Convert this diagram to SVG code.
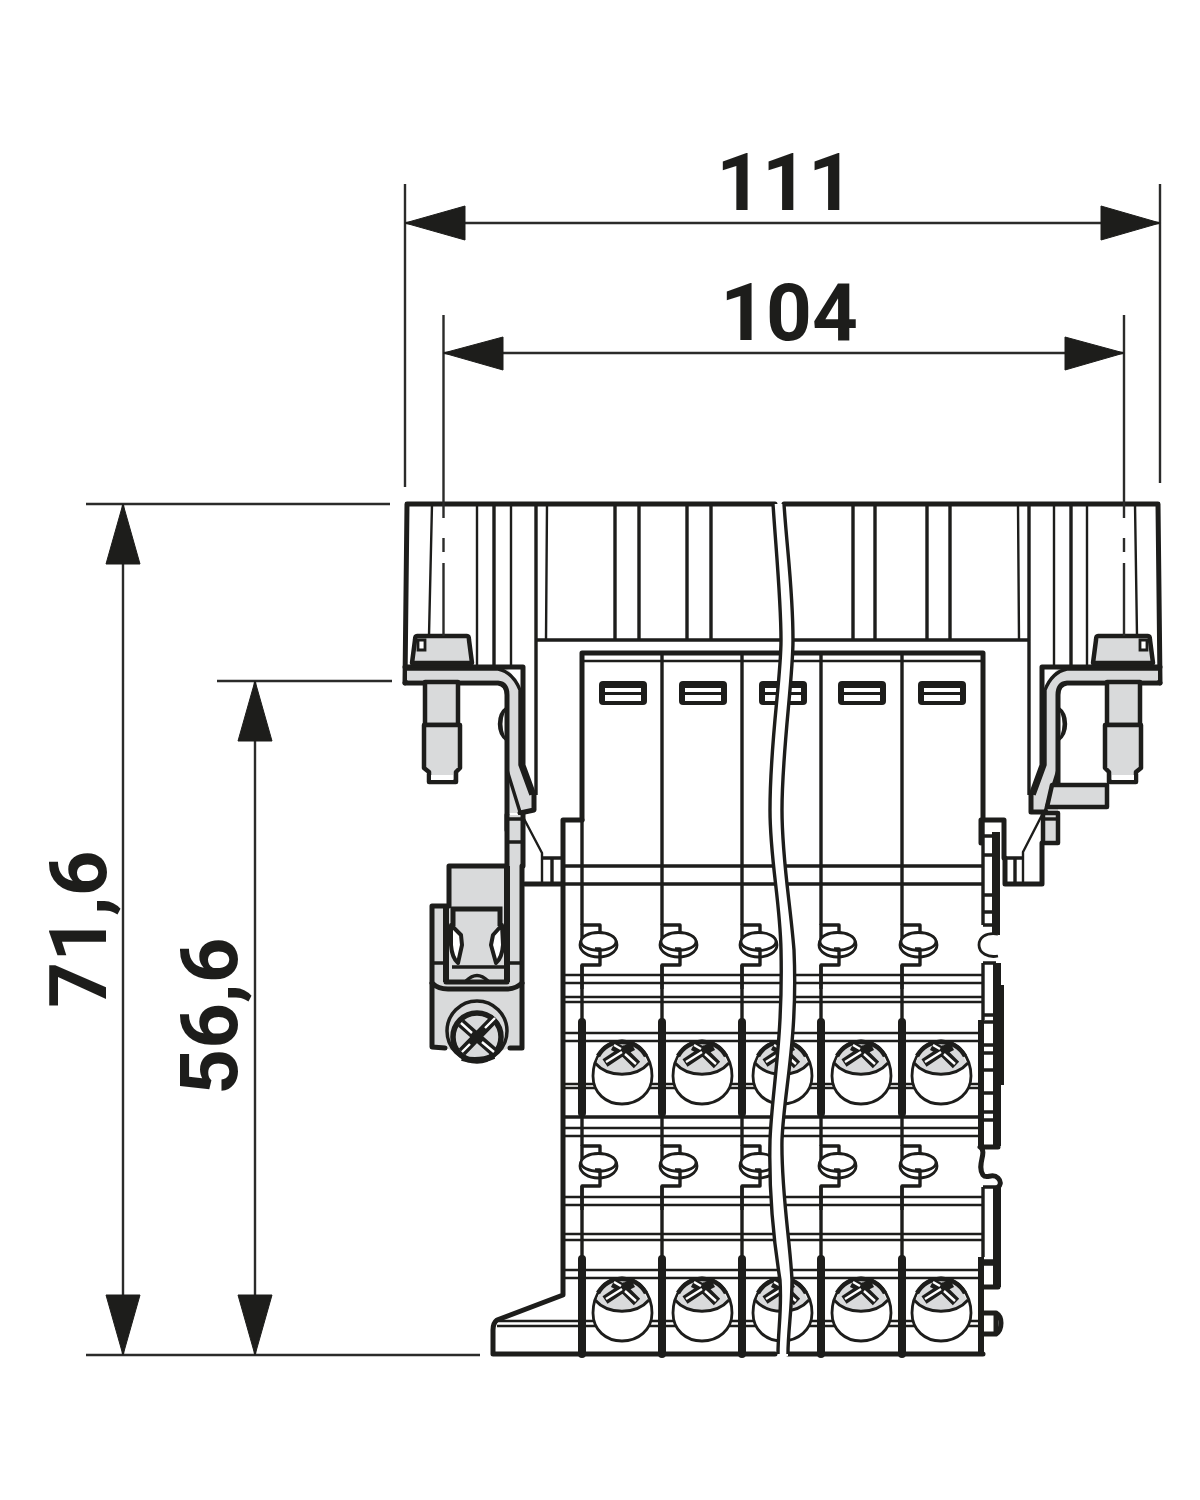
<svg xmlns="http://www.w3.org/2000/svg" xmlns:xlink="http://www.w3.org/1999/xlink" width="1200" height="1500" viewBox="0 0 1200 1500">
<style>
.l{fill:none;stroke:#1d1d1b;stroke-width:2.4;stroke-linejoin:round;stroke-linecap:butt}
.m{fill:none;stroke:#1d1d1b;stroke-width:3.4;stroke-linejoin:round}
.h{fill:none;stroke:#1d1d1b;stroke-width:5;stroke-linejoin:round;stroke-linecap:round}
.g{fill:#d9dadb;stroke:#1d1d1b;stroke-width:4.5;stroke-linejoin:round}
.gf{fill:#d9dadb;stroke:none}
.w{fill:#fff;stroke:#1d1d1b;stroke-width:2.8}
.d{fill:none;stroke:#2b2b2a;stroke-width:2.4}
.a{fill:#1d1d1b;stroke:#1d1d1b;stroke-width:1;stroke-linejoin:round}
.t{font-family:Roboto,"Liberation Sans",Arial,sans-serif;font-weight:700;font-size:80px;fill:#1d1d1b}
</style>
<defs>
<g id="bolt">
<path class="g" d="M425 682V725H458V682Z"/>
<path class="g" stroke-width="5.5" d="M424 725H460V768L456 772V782H429V772L424 768Z"/>
<path d="M431 775H453V780H431Z" fill="#fff" stroke="none"/>
<path class="g" d="M417 636H467Q469 636 469 640L472 663H412L415 640Q415 636 417 636Z"/>
<path d="M418 640H425V650H418Z" class="w"/>
</g>
<g id="slot">
<rect x="0" y="0" width="48" height="24" rx="4" fill="#1d1d1b"/>
<rect x="6" y="7" width="36" height="4" fill="#fff"/>
<rect x="6" y="14" width="36" height="6" fill="#fff"/>
</g>
<g id="term">
<path class="m" d="M0 0V-19H18V-10"/>
<ellipse class="w" cx="16.5" cy="1" rx="18.500" ry="12"/>
<ellipse class="w" cx="16.500" cy="-2.500" rx="17.500" ry="9"/>
<path class="m" d="M13 5H18V21H0V45"/>
</g>
<g id="screw">
<path class="w" stroke-width="3.6" d="M0 -33C18 -33 30 -16 30 2C30 19 16 30 0 30C-16 30 -29 19 -29 2C-29 -16 -18 -33 0 -33Z"/>
<path class="gf" d="M-26 -10C-20 -25 -10 -31 0 -31C10 -31 20 -25 26 -10C12 4 -12 4 -26 -10Z"/>
<path fill="none" stroke="#1d1d1b" stroke-width="3" d="M-27 -11C-14 4 14 4 27 -11"/>
<path fill="none" stroke="#1d1d1b" stroke-width="4.500" d="M-24 -18C-18 -28 -10 -32 0 -32C10 -32 18 -28 24 -18"/>
<path fill="none" stroke="#1d1d1b" stroke-width="9" stroke-linejoin="miter" d="M-17 -11L1 -23L15 -9M-9 -28L1 -23L11 -28"/>
<path fill="none" stroke="#fff" stroke-width="2.4" d="M-16 -12L0 -22M3 -20L14 -10M-8 -29L-1 -25"/>
</g>
</defs>

<g id="housing">
<path class="h" d="M775 504H407L405 683M784 504H1158L1160 683"/>
<path class="l" d="M432 504L429 636M477 504V667M511 504V667M547 504L546 640M1018 504L1019 640M1054 504V667M1087 504V667M1135 504L1137 636"/>
<path class="m" d="M494 504V667M615 504V640M639 504V640M687 504V640M711 504V640M853 504V640M875 504V640M927 504V640M950 504V640M1071 504V667"/>
<path class="m" d="M536 504V795M1029 504V795M536 640H1029"/>
</g>

<g id="modules">
<path class="h" d="M582 820V653H983V820"/>
<path class="l" d="M582 661H983"/>
<path class="m" d="M563 866H983M524 884H983"/>
<path class="h" stroke-width="5.500" d="M582 820H563V1295L497 1320Q493 1323 493 1330V1354H775M788 1354H983"/>
<use xlink:href="#slot" href="#slot" x="599" y="681"/>
<use xlink:href="#slot" href="#slot" x="679" y="681"/>
<use xlink:href="#slot" href="#slot" x="759" y="681"/>
<use xlink:href="#slot" href="#slot" x="838" y="681"/>
<use xlink:href="#slot" href="#slot" x="918" y="681"/>
<path class="l" d="M565 975H982M565 983H982M565 997H982M565 1002H982M565 1033H982M565 1041H982M565 1084H982M565 1088H982M565 1128H982M565 1136H982M565 1197H982M565 1205H982M565 1234H982M565 1240H982M565 1270H982M565 1278H982M497 1321H982M497 1326H982"/>
<path class="m" d="M565 1117H982"/>
</g>

<g id="terminals">
<path class="m" d="M582 653V925M662 653V925M742 653V925M821 653V925M902 653V925M582 965V1146M662 965V1146M742 965V1146M821 965V1146M902 965V1146M582 1186V1260M662 1186V1260M742 1186V1260M821 1186V1260M902 1186V1260"/>
<use xlink:href="#term" href="#term" x="582" y="944"/>
<use xlink:href="#term" href="#term" x="662" y="944"/>
<use xlink:href="#term" href="#term" x="742" y="944"/>
<use xlink:href="#term" href="#term" x="821" y="944"/>
<use xlink:href="#term" href="#term" x="902" y="944"/>
<use xlink:href="#term" href="#term" x="582" y="1165"/>
<use xlink:href="#term" href="#term" x="662" y="1165"/>
<use xlink:href="#term" href="#term" x="742" y="1165"/>
<use xlink:href="#term" href="#term" x="821" y="1165"/>
<use xlink:href="#term" href="#term" x="902" y="1165"/>
<use xlink:href="#screw" href="#screw" x="622" y="1074"/>
<use xlink:href="#screw" href="#screw" x="702" y="1074"/>
<use xlink:href="#screw" href="#screw" x="782" y="1074"/>
<use xlink:href="#screw" href="#screw" x="861" y="1074"/>
<use xlink:href="#screw" href="#screw" x="941" y="1074"/>
<use xlink:href="#screw" href="#screw" x="622" y="1311"/>
<use xlink:href="#screw" href="#screw" x="702" y="1311"/>
<use xlink:href="#screw" href="#screw" x="782" y="1311"/>
<use xlink:href="#screw" href="#screw" x="861" y="1311"/>
<use xlink:href="#screw" href="#screw" x="941" y="1311"/>
<path fill="none" stroke="#1d1d1b" stroke-width="8" stroke-linecap="round" d="M582 1022V1113M662 1022V1113M742 1022V1113M821 1022V1113M902 1022V1113M582 1259V1354M662 1259V1354M742 1259V1354M821 1259V1354M902 1259V1354"/>
</g>

<g id="right-edge">
<path d="M984 820H1005V860H1001L1000 925H996V963L1002 985V1085L998 1100V1147H984V820Z" fill="#fff"/>
<path class="h" d="M981 820H1004V858M981 820V843"/>
<path fill="none" stroke="#1d1d1b" stroke-width="8" d="M996 832V935M997 963V1146M997 1187V1287"/>
<path fill="none" stroke="#1d1d1b" stroke-width="6" d="M1001 985V1085"/>
<path class="m" d="M983 820V925M984 836H994M984 855H994M984 895H994M984 912H994"/>
<path class="m" d="M992 925H983M983 963H996M983 963V1020M983 1187H996M983 1187V1257"/>
<path class="m" d="M984 1015H994M984 1022H994M984 1045H994M984 1053H994M984 1070H994M984 1093H994M984 1112H994M984 1120H994M984 1261H994M984 1264H994"/>
<path fill="none" stroke="#1d1d1b" stroke-width="6" d="M981 1020V1147M981 1257V1354"/>
<path class="w" stroke-width="3.500" d="M998 934C985 932 979 938 979 945C979 953 988 958 998 956"/>
<path class="h" d="M984 1147H998M980 1147C988 1152 976 1165 983 1175C987 1180 992 1172 998 1178C1002 1182 1000 1186 998 1187M984 1287H998"/>
<path class="h" d="M984 1313H996Q1001 1316 1001 1323Q1001 1331 996 1334H984"/>
<path fill="none" stroke="#1d1d1b" stroke-width="5" d="M996 1315V1333"/>
</g>

<g id="bracket-left">
<path class="gf" d="M407 669H523V765L534 795V810L522 813H507V693Q505 680 498 680H407Z"/>
<path fill="#fff" d="M507 669H523V700Q515 675 507 669Z"/>
<path class="h" d="M405 683H498Q507 684 507 695V830M405 667H523V765L534 795V810L520 813"/>
<path class="m" d="M407 669H498Q513 672 520 690V765L531 795M507 770L520 812"/>
<path class="gf" d="M509 815H521V1045H509Z"/>
<path class="h" d="M507 815V866M523 813V866"/>
<path class="m" d="M507 819H523M507 842H523"/>
<path class="m" d="M507 708C497 715 497 733 507 740M503 712C500 720 500 728 503 736"/>
<path class="l" d="M522 815L542 853V884"/>
<path class="m" d="M542 858H562M552 858V884"/>
<path class="h" d="M525 884H562"/>
</g>

<g id="bracket-right">
<path class="gf" d="M1158 669H1042V765L1031 795V810L1043 813H1058V693Q1060 680 1067 680H1158Z"/>
<path fill="#fff" d="M1058 669H1042V700Q1050 675 1058 669Z"/>
<path class="h" d="M1160 683H1067Q1058 684 1058 695V785M1160 667H1042V765L1031 795V812L1046 812"/>
<path class="m" d="M1158 669H1067Q1052 672 1045 690V765L1034 795M1058 770L1045 812"/>
<path class="g" d="M1052 785H1107V807H1047Z"/>
<path class="g" d="M1043 813H1058V843H1043Z"/>
<path class="m" d="M1043 819H1058"/>
<path class="m" d="M1058 708C1068 715 1068 733 1058 740M1062 712C1065 720 1065 728 1062 736"/>
<path class="l" d="M1042 815L1023 852V884"/>
<path class="m" d="M1005 858H1023M1015 858V884"/>
<path class="h" d="M1005 858V884H1042V843"/>
</g>

<g id="bolts">
<use xlink:href="#bolt" href="#bolt"/>
<use xlink:href="#bolt" href="#bolt" transform="matrix(-1 0 0 1 1565 0)"/>
</g>

<g id="clamp">
<path class="gf" d="M449 866H523V1047L510 1048Q477 1060 445 1048H432V906H449Z"/>
<path class="h" d="M505 866H449V906H432V1047L445 1048M510 1048H522V866"/>
<path class="m" d="M432 963H445M508 963H522M452 967H506"/>
<path fill="none" stroke="#1d1d1b" stroke-width="6" d="M446 906V982M507 866V982"/>
<path class="h" d="M446 982H507M432 983Q438 989 448 989H506Q516 989 522 983"/>
<path fill="none" stroke="#1d1d1b" stroke-width="5" d="M453 926V909H500V926"/>
<path class="m" d="M466 981Q477 970 488 981"/>
<path fill="#fff" stroke="#1d1d1b" stroke-width="4" stroke-linejoin="round" d="M451 925L461 935L462 945L458 963Q452 958 451 945Z"/>
<path fill="#fff" stroke="#1d1d1b" stroke-width="4" stroke-linejoin="round" d="M502 925L493 935L491 945L496 963Q502 958 503 945Z"/>
<circle cx="477" cy="1031" r="30" fill="#d9dadb" stroke="#1d1d1b" stroke-width="3.500"/>
<circle cx="477" cy="1037" r="24" fill="#d9dadb" stroke="#1d1d1b" stroke-width="5.500"/>
<path fill="none" stroke="#1d1d1b" stroke-width="9" d="M461 1023L494 1052M495 1018L462 1052"/>
<path fill="none" stroke="#fff" stroke-width="2.400" d="M461 1023L472 1033M482 1042L494 1052M495 1018L485 1028M470 1044L462 1052"/>
<path fill="none" stroke="#1d1d1b" stroke-width="6" d="M462 1058Q477 1063 494 1056"/>
</g>

<g id="break">
<path fill="#fff" d="M773 504C776 550 781 600 781 640C781 680 770 740 770 810C770 860 780 900 781 950C783 1040 772 1090 770 1140C769 1180 772 1230 780 1280C782 1310 778 1330 778 1356H788C788 1330 792 1310 792 1280C790 1240 781 1190 782 1140C784 1090 798 1040 794 950C790 900 782 860 782 810C782 750 793 680 793 640C793 590 787 550 784 504Z"/>
<path class="m" d="M773 504C776 550 781 600 781 640C781 680 770 740 770 810C770 860 780 900 781 950C783 1040 772 1090 770 1140C769 1180 772 1230 780 1280C782 1310 778 1330 778 1354"/>
<path class="m" d="M784 504C787 550 793 590 793 640C793 680 782 750 782 810C782 860 790 900 794 950C798 1040 784 1090 782 1140C781 1190 790 1240 792 1280C792 1310 788 1330 788 1354"/>
</g>

<g id="dimensions">
<path class="d" d="M405 184V487M1160 184V483M405 223H1160M443.500 315V518M1124 315V518M443.500 538V552M1124 538V552M443.500 563V636M1124 563V636M443.500 353H1124M86 504H390M217 681H392M86 1355H480M123 504V1355M255 681V1355"/>
<path class="a" d="M405 223L465 206V240ZM1160 223L1101 206V240ZM443.500 353L503 337V370ZM1124 353L1065 337V370ZM123 504L106 564H140ZM123 1355L106 1295H140ZM255 681L238 741H272ZM255 1355L238 1295H272Z"/>
<text class="t" x="785" y="210" text-anchor="middle">111</text>
<text class="t" x="789" y="340" text-anchor="middle">104</text>
<text class="t" transform="translate(106 929) rotate(-90)" text-anchor="middle">71,6</text>
<text class="t" transform="translate(237 1016) rotate(-90)" text-anchor="middle">56,6</text>
</g>
</svg>
